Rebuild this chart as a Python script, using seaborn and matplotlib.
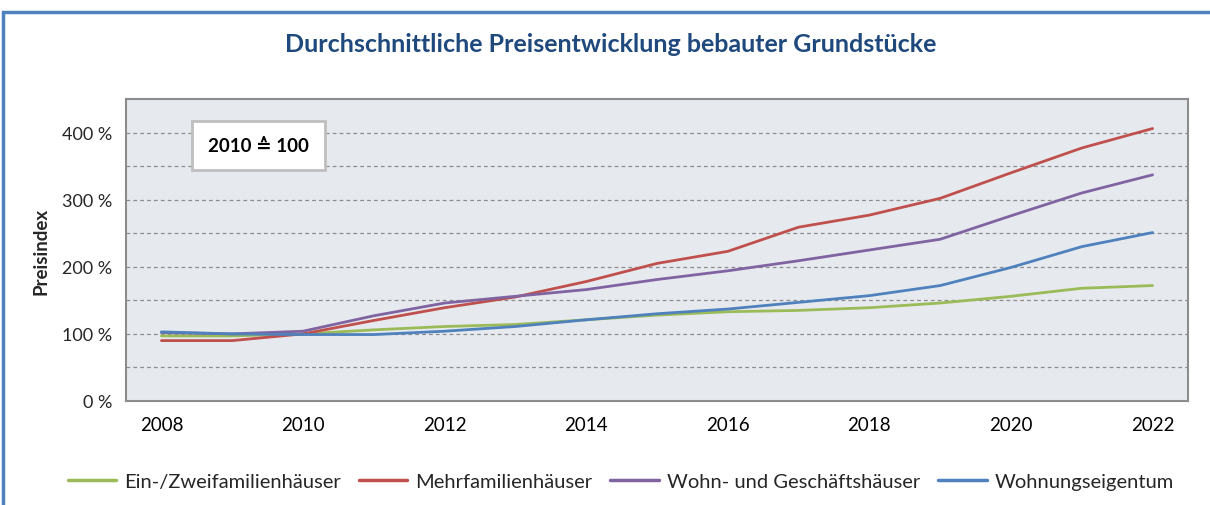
import matplotlib
matplotlib.use("Agg")
import matplotlib.pyplot as plt
import seaborn as sns
import pandas as pd
from matplotlib.patches import Rectangle
from matplotlib.ticker import FixedLocator, FuncFormatter

years = list(range(2008, 2023))
ein_zwei = [97, 97, 100, 106, 111, 114, 121, 128, 133, 135, 139, 146, 156, 168, 172]
mehr = [90, 90, 100, 120, 139, 155, 178, 205, 223, 259, 277, 302, 340, 377, 406]
wohn_gesch = [102, 100, 104, 127, 146, 156, 166, 181, 194, 209, 225, 241, 276, 310, 337]
eigentum = [103, 100, 99, 99, 104, 111, 121, 130, 137, 147, 157, 172, 199, 230, 251]

series_names = ["Ein-/Zweifamilienhäuser", "Mehrfamilienhäuser",
                "Wohn- und Geschäftshäuser", "Wohnungseigentum"]
series_vals = [ein_zwei, mehr, wohn_gesch, eigentum]
colors = ["#9BBB59", "#C0504D", "#8064A2", "#4F81BD"]
title = "Durchschnittliche Preisentwicklung bebauter Grundstücke"
ylabel = "Preisindex"
box_text = "2010 \u2259 100"

rows = []
for name, vals in zip(series_names, series_vals):
    for y, v in zip(years, vals):
        rows.append({"Jahr": y, "Index": v, "Reihe": name})
df = pd.DataFrame(rows)

sns.set_style("white")
plt.rcParams["font.family"] = ["Lato", "DejaVu Sans"]

fig = plt.figure(figsize=(12.1, 5.06), dpi=100)
ax = fig.add_axes([126/1210, 1-402/506, (1188-126)/1210, (402-100)/506])
ax.set_facecolor("#E6EAEF")

sns.lineplot(data=df, x="Jahr", y="Index", hue="Reihe", hue_order=series_names,
             palette=colors, linewidth=2.0, ax=ax, legend=True)

ax.set_xlim(2007.5, 2022.5)
ax.set_ylim(0, 450)
ax.yaxis.set_major_locator(FixedLocator([0, 100, 200, 300, 400]))
ax.yaxis.set_major_formatter(FuncFormatter(lambda v, p: f"{int(v)} %"))
for g in [50, 100, 150, 200, 250, 300, 350, 400]:
    ax.axhline(g, color="#8C8C8C", lw=0.9, ls=(0, (3, 2.5)), zorder=0.5)

ax.xaxis.set_major_locator(FixedLocator(years[::2]))
ax.xaxis.set_minor_locator(FixedLocator([2007.5 + i for i in range(16)]))
ax.tick_params(axis="x", which="major", length=0, labelsize=13.5, pad=11, colors="#000000")
ax.tick_params(axis="x", which="minor", length=7, width=1, color="#8C8C8C", direction="out")
ax.tick_params(axis="y", which="major", length=6, width=1, color="#8C8C8C", labelsize=13, pad=4)
ax.tick_params(axis="y", which="minor", length=0)
for s in ax.spines.values():
    s.set_color("#8C8C8C")
    s.set_linewidth(1.5)
ax.set_xlabel("")
ax.set_ylabel(ylabel, fontsize=13.5, fontweight="bold", labelpad=9)

ax.text(0.1248, 0.846, box_text, transform=ax.transAxes, ha="center", va="center",
        fontsize=13.5, fontweight="bold", color="#000000",
        bbox=dict(boxstyle="square,pad=0.85", facecolor="white", edgecolor="#BFBFBF", linewidth=2))

handles, labels = ax.get_legend_handles_labels()
ax.get_legend().remove()
for h in handles:
    h.set_linewidth(2.5)
fig.legend(handles, labels, loc="center", bbox_to_anchor=(0.513, 1-482/506), ncol=4,
           frameon=False, fontsize=14.5, handlelength=2.4, handletextpad=0.4,
           columnspacing=0.9)

fig.text(0.505, 1-45/506, title, ha="center", va="center", fontsize=18,
         fontweight="bold", color="#1F497D")

fig.patches.append(Rectangle((3/1210, -0.1), 1.2, 1-13/506+0.1, transform=fig.transFigure,
                             fill=False, edgecolor="#4F81BD", linewidth=2.5))

fig.savefig("out.png", dpi=100)
